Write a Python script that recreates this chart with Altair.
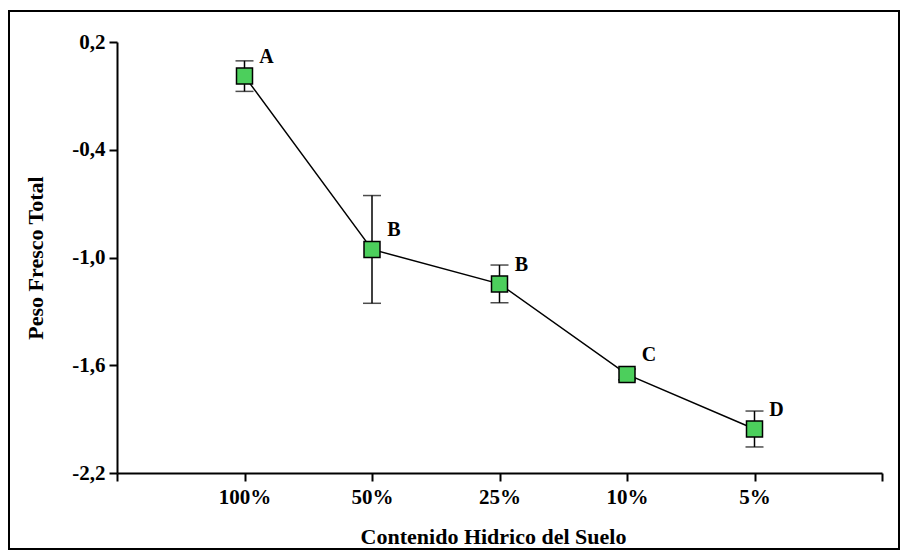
import json
import altair as alt
import pandas as pd

categories = ["100%", "50%", "25%", "10%", "5%"]
positions = [1, 2, 3, 4, 5]
means = [0.01, -0.955, -1.147, -1.651, -1.955]
errors = [0.085, 0.30, 0.105, 0.03, 0.10]
letters = ["A", "B", "B", "C", "D"]
y_ticks = [0.2, -0.4, -1.0, -1.6, -2.2]
x_ticks = [0, 1, 2, 3, 4, 5, 6]

df = pd.DataFrame({
    "cat": categories,
    "pos": positions,
    "mean": means,
    "lo": [m - e for m, e in zip(means, errors)],
    "hi": [m + e for m, e in zip(means, errors)],
    "letter": letters,
})

FONT = "Liberation Serif"
W, H = 765, 431
cat_arr = json.dumps(categories)

x_enc = alt.X(
    "pos:Q",
    scale=alt.Scale(domain=[0, 6], nice=False, zero=False),
    axis=alt.Axis(
        values=x_ticks,
        labelExpr=f"datum.value >= 1 && datum.value <= 5 ? {cat_arr}[datum.value - 1] : ''",
        title="Contenido Hidrico del Suelo",
        grid=False,
        domainColor="black", domainWidth=2,
        tickColor="black", tickWidth=2, tickSize=8,
        labelFont=FONT, labelFontSize=21, labelFontWeight="bold", labelColor="black",
        labelPadding=5,
        titleFont=FONT, titleFontSize=22, titleFontWeight="bold", titleColor="black",
        titleX=376, titleY=63, titleBaseline="middle", titleAnchor="middle",
    ),
)
y_enc = alt.Y(
    "mean:Q",
    scale=alt.Scale(domain=[-2.2, 0.2], nice=False, zero=False),
    axis=alt.Axis(
        values=y_ticks,
        labelExpr="(datum.value < 0 ? '-' : '') + replace(format(abs(datum.value), '.1f'), '.', ',')",
        title="Peso Fresco Total",
        grid=False,
        domainColor="black", domainWidth=2,
        tickColor="black", tickWidth=2, tickSize=8,
        labelFont=FONT, labelFontSize=21, labelFontWeight="bold", labelColor="black",
        labelPadding=4, labelBaseline="middle",
        titleFont=FONT, titleFontSize=22, titleFontWeight="bold", titleColor="black",
        titleX=-82, titleY=H / 2, titleAngle=-90, titleBaseline="middle", titleAnchor="middle",
    ),
)

base = alt.Chart(df)

line = base.mark_line(color="black", strokeWidth=1.5).encode(x=x_enc, y=y_enc)
rule = base.mark_rule(color="black", strokeWidth=1.5).encode(
    x="pos:Q", y="lo:Q", y2="hi:Q"
)
cap_lo = base.mark_tick(color="black", thickness=1.5, size=18, orient="horizontal").encode(
    x="pos:Q", y="lo:Q"
)
cap_hi = base.mark_tick(color="black", thickness=1.5, size=18, orient="horizontal").encode(
    x="pos:Q", y="hi:Q"
)
points = base.mark_square(size=256, fill="#4ccf5c", stroke="black", strokeWidth=1.5, opacity=1).encode(
    x="pos:Q", y="mean:Q"
)
labels = base.mark_text(
    font=FONT, fontSize=20, fontWeight="bold", color="black",
    align="center", baseline="middle", dx=22, dy=-19,
).encode(x="pos:Q", y="mean:Q", text="letter:N")

frame = alt.Chart(pd.DataFrame({"f": [0]})).mark_rect(
    fill=None, stroke="black", strokeWidth=2
).encode(
    x=alt.value(-108), x2=alt.value(782), y=alt.value(-31), y2=alt.value(507)
)

chart = alt.layer(line, rule, cap_lo, cap_hi, points, labels, frame).properties(
    width=W, height=H,
    autosize=alt.AutoSizeParams(type="none"),
    padding={"left": 109, "top": 34, "right": 18, "bottom": 77},
).configure(background="white", view=alt.ViewConfig(stroke=None, strokeWidth=0))

chart.save("out.html", embed_options={"renderer": "svg", "actions": False})
